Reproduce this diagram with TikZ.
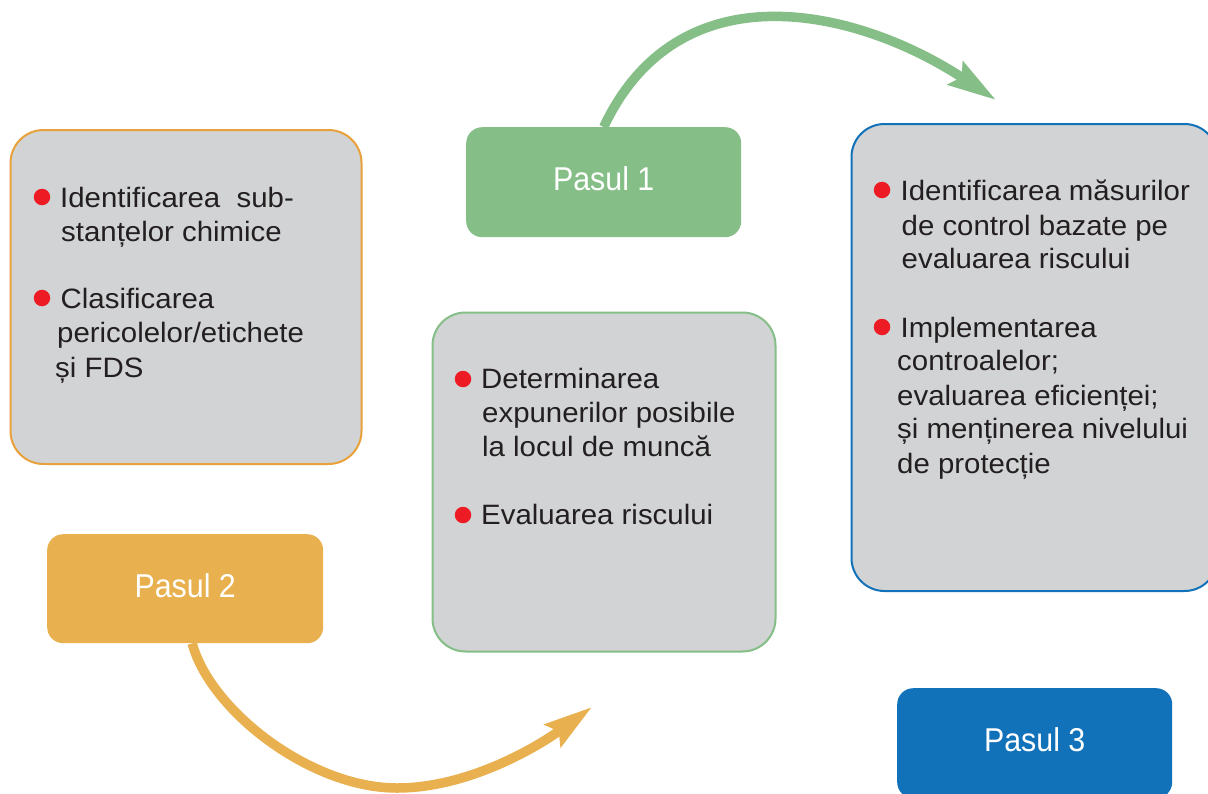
\documentclass[tikz,border=0pt]{standalone}
\usepackage{fontspec}
\setmainfont{Liberation Sans}
\newfontfamily\bodyfont[FakeStretch=1.05]{Liberation Sans}
\newfontfamily\stepfont[FakeStretch=0.92]{Liberation Sans}
\usetikzlibrary{arrows.meta,calc}
\definecolor{panelgray}{HTML}{D1D3D4}
\definecolor{orangeline}{HTML}{E9A23B}
\definecolor{orangefill}{HTML}{E8B04E}
\definecolor{greenc}{HTML}{85BF87}
\definecolor{bluec}{HTML}{1172BA}
\definecolor{bulletred}{HTML}{ED1C24}
\definecolor{textgray}{HTML}{231F20}
\tikzset{
  panel/.style={rounded corners=33pt, fill=panelgray, line width=2pt, inner sep=0pt, anchor=north west},
  stepbox/.style={rounded corners=16pt, inner sep=0pt, anchor=north west, text=white,
    font=\stepfont\fontsize{33}{33}\selectfont, text height=63pt},
  txt/.style={anchor=base west, inner sep=0pt, text=textgray, font=\bodyfont\fontsize{28}{34}\selectfont},
  bullet/.style={circle, fill=bulletred, inner sep=0pt, minimum size=16.5pt},
  bigarrow/.style={line width=9.5pt, -{Stealth[length=48pt, width=27pt, inset=7pt]}}
}
\begin{document}
\begin{tikzpicture}[x=1pt,y=-1pt]
\path[fill=white, use as bounding box] (0,0) rectangle (1208,793);

% panels
\node[panel, draw=orangeline, minimum width=351pt, minimum height=334pt] (box1) at (9.5,129) {};
\node[panel, draw=greenc, minimum width=343pt, minimum height=339pt] (box2) at (431.5,311.5) {};
\node[panel, draw=bluec, minimum width=366pt, minimum height=467pt] (box3) at (850.5,123) {};

% step boxes
\node[stepbox, fill=greenc, minimum width=275pt, text depth=47pt] (p1) at (466,127) {Pasul 1};
\node[stepbox, fill=orangefill, minimum width=276pt, text depth=46pt] (p2) at (47,534) {Pasul 2};
\node[stepbox, fill=bluec, minimum width=275pt, text depth=47pt] (p3) at (897,688) {Pasul 3};

% box 1 text
\node[bullet] (b1a) at (42,197) {};
\node[txt] (t1a) at (60,207) {Identificarea\ \ sub-};
\node[txt] (t1b) at (61,241) {stanțelor chimice};
\node[bullet] (b1b) at (42,298) {};
\node[txt] (t1c) at (60.5,308) {Clasificarea};
\node[txt] (t1d) at (57,342) {pericolelor/etichete};
\node[txt] (t1e) at (55,377) {și FDS};

% box 2 text
\node[bullet] (b2a) at (463,379) {};
\node[txt] (t2a) at (481,388) {Determinarea};
\node[txt] (t2b) at (482,422.7) {expunerilor posibile};
\node[txt] (t2c) at (482,456.7) {la locul de muncă};
\node[bullet] (b2b) at (463,515) {};
\node[txt] (t2d) at (481,524) {Evaluarea riscului};

% box 3 text
\node[bullet] (b3a) at (882,190) {};
\node[txt] (t3a) at (900.5,200) {Identificarea măsurilor};
\node[txt] (t3b) at (901.5,235) {de control bazate pe};
\node[txt] (t3c) at (901.5,268) {evaluarea riscului};
\node[bullet] (b3b) at (882,327) {};
\node[txt] (t3d) at (900.5,337) {Implementarea};
\node[txt] (t3e) at (897,370) {controalelor;};
\node[txt] (t3f) at (897,405) {evaluarea eficienței;};
\node[txt] (t3g) at (897,438) {și menținerea nivelului};
\node[txt] (t3h) at (897,473) {de protecție};

% arrows
\coordinate (gtip) at (996,100);
\draw[bigarrow, draw=greenc] (p1.north) .. controls (680,-35) and (860,10) .. (gtip);

\coordinate (ostart) at ($(p2.south)+(7,0)$);
\coordinate (obot) at (397,788);
\coordinate (otip) at (592,707);
\draw[bigarrow, draw=orangefill] (ostart) .. controls (210,710) and (310,788) .. (obot)
  .. controls (470,788) and (540,745) .. (otip);
\end{tikzpicture}
\end{document}
